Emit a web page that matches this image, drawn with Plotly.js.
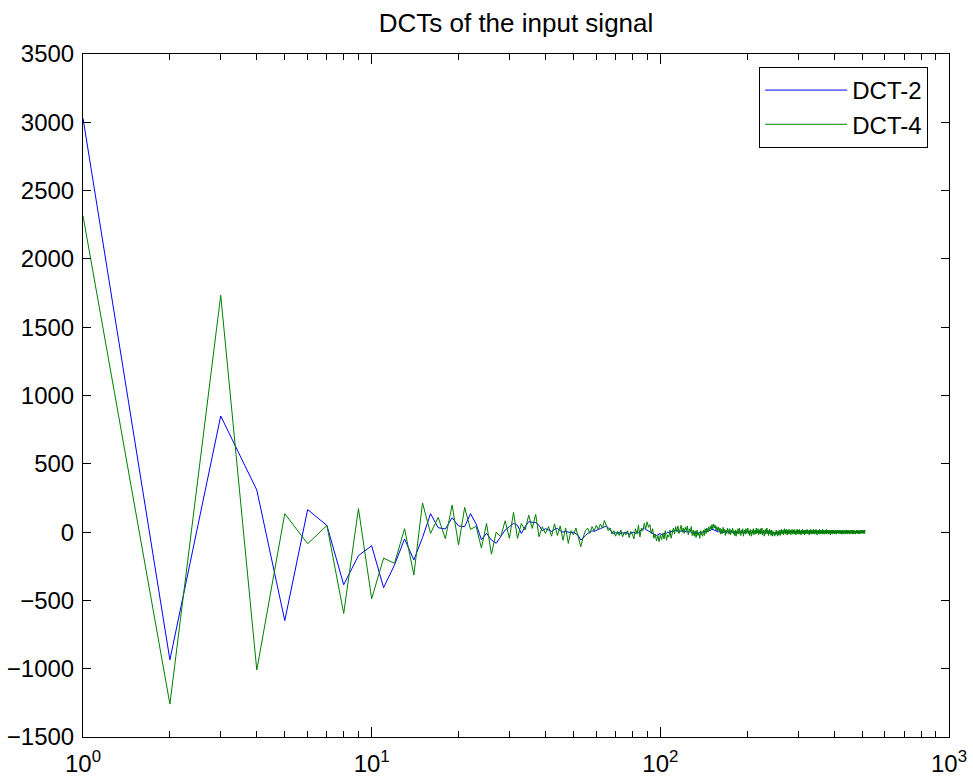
<!DOCTYPE html>
<html>
<head>
<meta charset="utf-8">
<script src="https://cdn.plot.ly/plotly-3.0.1.min.js"></script>
<style>html,body{margin:0;padding:0;background:#fff;}#chart{width:973px;height:781px;}</style>
</head>
<body>
<div id="chart"></div>
<script>
// ---- data (coefficient values) ----
const seriesNames = ["DCT-2", "DCT-4"];

const dct2Head = [3030, -935, 850, 308, -648, 165, 48, -385, -172, -100,
  -407, -240, -50, -204, -40, 135, 32, 23, 105, 45,
  40, 135, 60, -56, -9, -58, -82, -34];
const dct2Mid = [15, 40, 63, 50, -10, 40, 76, 72, 70, 50,
  10, 25, 15, 5, 20, 27, 10, 0, 5, 0,
  -5, 0, -10, -25, -59, -45, -25, -10, 0, 10,
  5, 15, 20, 25, 30, 40, 45, 30, 15, 0,
  -10, -5, -10, 0, -15, -5, -10, 0, -5, -15,
  -10, -5];
const dct2Tail = [0, -10, 5, -5, 10, 15, 25, 30, 20, 15,
  10, 5, -5, -10, -15, -20, -25, -20, -15, -10,
  -20, -10, -15, -5, -10, 0, -5, 5, 0, 10,
  5, 10, 15, 5, 10, 0, 5, 10, 5, 0,
  10, 5, 0, 5, -5, 0, 5, -5, 0, -10,
  -5, -10, 0, -5, -10, -5, 0, -10, -5, 0,
  5, 0, 10, 5, 0, 10, 5, 15, 10, 20,
  25, 15, 20, 10, 15, 5, 10, 0, 5, 0,
  5, 0, -5, 5, 0, -5, 0, 5, -5, 0, 5, 0, -5, 5, 0, 5, -5, 0, 5, 0, -5, 0, 5, -5, 0, 5, 0, -5, 5, 0, -5, 0, 5, 0, -5, 5, 0, -5, 0, 5,
  0, 5, -5, 0, 5, 0, -5, 0, 5, -5, 0, 5, 0, -5, 5, 0, -5, 0, 5, 0, -5, 5, 0, -5, 0, 5, 0, -5, 0, 5, -5, 0, 5, 0, -5, 0, 5, -5, 0, 5,
  0, -5, 0, -5, -10, -5, 0, -5, -10, -5, 0, -5, -10, 0, -5, -5, 0, -5, 0, 5, 0, -5, 5, 0, -5, 0, 5, 0, -5, 5, 0, 5, -5, 0, 5, 0, -5, 0, 5, 0,
  -5, 0, 5, 0, -5, 5, 0, -5, 0, 5, 0, -5, 5, 0, 0, -5, 5, 0, -5, 0, 5, 0, -5, 0, 5, -5, 0, 5, 0, -5, 0, 5, 0, -5, 5, 0, -5, 0, 5, 0,
  0, 5, -5, 0, 5, 0, -5, 0, 5, 0, -5, 5, 0, -5, 0, 5, 0, -5, 0, 5, -5, 0, 5, 0, -5, 0, 5, 0, -5, 5, 0, -5, 0, 5, 0, -5, 0, 5, -5, 0,
  5, 0, -5, 0, 5, 0, -5, 5, 0, -5, 0, 5, 0, -5, 0, 5, -5, 0, 5, 0, -5, 0, 5, 0, -5, 5, 0, -5, 0, 5, 0, -5, 0, 5, -5, 0, 5, 0, -5, 0,
  0, 5, 0, -5, 5, 0, -5, 0, 5, 0, -5, 0, 5, -5, 0, 5, 0, -5, 5, 0, -5, 0, 5, 0, -5, 5, 0, 0, -5, 5, 0, -5, 0, 5, 0, -5, 0, 5, 0, -5,
  5, 0, -5, 0, 5, -5, 0, 5, 0, -5, 0, 5, 0, -5, 5, 0, -5, 0, 5, 0, 0, -5, 5, 0, -5, 0, 5, -5, 0, 5, 0, -5, 0, 5, 0, -5, 5, 0, -5, 0,
  5, 0, -5, 0, 5, -5, 0, 5, 0, -5, 0, 5, 0, -5, 5, 0, -5, 0, 5, 0, -5, 5, 0, -5, 0, 5, 0, -5, 0, 5, -5, 0];

const dct4Head = [2316, -1259, 1734, -1010, 135, -85, 48, -595, 172, -488,
  -190, -229, 25, -314, 213, -9, 108, -48, 198, -94,
  181, 20, 42, -117, 63, -162, 0, -34];
const dct4Mid = [83, -46, 145, -46, 63, 15, 124, 27, 129, -34,
  39, -10, 40, -30, 60, -25, 45, -59, 30, -83,
  10, -20, 30, -30, -107, -40, 10, 30, -10, 40,
  10, 50, 20, 60, 30, 85, 40, 10, 30, -15,
  10, -30, 5, -25, 15, -35, 0, -20, 10, -40,
  5, -15];
const dct4Tail = [-50, 25, -15, 50, -35, 30, 10, 65, 25, 75,
  35, 55, -10, 25, -45, -15, -65, -25, -70, -20,
  -55, -10, -50, 10, -60, -20, -35, 15, -45, 5,
  30, -15, 40, 5, 45, -10, 20, 50, 0, 30,
  -10, 35, 10, 45, -20, 25, 5, 40, -25, 15,
  -30, 10, -40, 15, -25, -5, -45, 10, -15, -30,
  15, -25, 25, -10, 30, 0, 35, 10, 45, 20,
  55, 25, 60, 30, 50, 15, 40, 10, 35, 5,
  30, -15, 20, -10, 35, 0, 20, -25, 15, -10, 30, 5, -15, 25, -20, 15, 0, 30, -15, 10,
  -25, 15, -30, 10, -10, 25, -15, 30, 0, -25, 15, -10, 25, -30, 5, 15, -15, 25, -10, 0,
  30, -15, 10, -25, 20, 0, -30, 15, -10, 25, -20, 5, 15, -15, 30, -10, 0, 25, -20, 15,
  -10, 25, -15, 10, 30, -20, 0, 15, -30, 10, 20, -15, 0, 30, -10, 15, -25, 5, 20, -15,
  10, -25, 15, 0, -30, 5, -15, -5, -30, 0, -20, 15, -15, -5, -30, 10, -20, 0, 15, -25,
  10, -15, 20, 0, -10, 15, -20, 5, 25, -10, 15, -15, 20, 0, -20, 15, 5, -15, 20, -10,
  0, 15, -20, 10, -10, 20, -15, 0, 15, -10, 20, -15, 10, 0, -20, 15, -10, 20, 0, -15,
  15, -10, 20, -15, 10, 0, -20, 15, -10, 10, 20, -15, 0, 15, -10, -20, 10, 15, -15, 10,
  0, 20, -10, 15, -15, 10, 0, -20, 15, 5, -10, 20, -15, 0, 15, -10, 10, -15, 20, 0,
  -10, 15, -15, 10, 0, 20, -10, 15, -20, 10, 0, 15, -10, 10, -15, 20, 0, -10, 15, -15,
  10, 0, 15, -10, 20, -15, 10, -10, 15, 0, -15, 10, 15, -10, 0, 20, -15, 10, -10, 15,
  0, -15, 10, 15, -10, 0, 15, -20, 10, 0, 15, -10, 10, -15, 15, 0, -10, 10, 15, -10,
  10, -15, 0, 15, -10, 10, 0, -15, 15, -10, 10, 0, 15, -10, -15, 10, 0, 15, -10, 10,
  -10, 15, 0, -15, 10, 10, -10, 15, -15, 0, 10, -10, 15, 0, -10, 10, -15, 10, 0, 15,
  -10, 10, 0, -15, 15, -10, 10, 0, -10, 15, -10, 0, 10, -15, 10, 0, 15, -10, 10, -10,
  0, 15, -10, 10, -15, 10, 0, -10, 15, 0, -10, 10, 0, -15, 10, 10, -10, 15, 0, -10,
  10, 0, -10, 15, -10, 0, 10, -15, 10, 0, 15, -10, 0, 10, -10, 15, 0, -10, 10, 0,
  -10, 15, 0, -10, 10, -10, 15, 0, 10, -10, 15, 10];

const xTickVals = [1, 10, 100, 1000];
const xTickText = ["10<sup>0</sup>", "10<sup>1</sup>", "10<sup>2</sup>", "10<sup>3</sup>"];
const xMinorVals = [2,3,4,5,6,7,8,9,20,30,40,50,60,70,80,90,200,300,400,500,600,700,800,900];

// ---- build traces ----
const dct2 = dct2Head.concat(dct2Mid, dct2Tail);
const dct4 = dct4Head.concat(dct4Mid, dct4Tail);
const idx = arr => arr.map((_, i) => i + 1);

const FONT = "Liberation Sans, Arial, Helvetica, sans-serif";
const FS = 24;

const traces = [
  {x: idx(dct2), y: dct2, type: "scatter", mode: "lines", name: seriesNames[0],
   line: {color: "#0000ff", width: 1}},
  {x: idx(dct4), y: dct4, type: "scatter", mode: "lines", name: seriesNames[1],
   line: {color: "#008000", width: 1}}
];

const layout = {
  width: 973, height: 781,
  paper_bgcolor: "#ffffff", plot_bgcolor: "#ffffff",
  margin: {l: 83, r: 24, t: 54, b: 44, pad: 0},
  font: {family: FONT, size: FS, color: "#000"},
  title: {text: "DCTs of the input signal", font: {family: FONT, size: 26, color: "#000"},
          x: 0.5, xref: "paper", xanchor: "center", y: 0.9706, yref: "container", yanchor: "middle"},
  showlegend: true,
  legend: {x: 0.976, xanchor: "right", y: 0.981, yanchor: "top",
           bgcolor: "#ffffff", bordercolor: "#000", borderwidth: 1,
           font: {family: FONT, size: FS, color: "#000"}, itemwidth: 82},
  xaxis: {type: "log", range: [0, 3], tickmode: "array", tickvals: xTickVals, ticktext: xTickText,
          ticks: "inside", ticklen: 10, tickwidth: 1, tickcolor: "#000",
          showline: true, linecolor: "#000", linewidth: 1, mirror: "ticks",
          showgrid: false, zeroline: false, ticklabelstandoff: 5,
          tickfont: {family: FONT, size: FS, color: "#000"},
          minor: {tickmode: "array", tickvals: xMinorVals, ticks: "inside", ticklen: 6, tickcolor: "#000", showgrid: false}},
  yaxis: {range: [-1500, 3500], tickmode: "linear", tick0: -1500, dtick: 500,
          ticks: "inside", ticklen: 8, tickwidth: 1, tickcolor: "#000",
          showline: true, linecolor: "#000", linewidth: 1, mirror: "ticks",
          showgrid: false, zeroline: false, ticklabelstandoff: 3,
          tickfont: {family: FONT, size: FS, color: "#000"}}
};

Plotly.newPlot("chart", traces, layout, {displayModeBar: false, staticPlot: true});
</script>
</body>
</html>
